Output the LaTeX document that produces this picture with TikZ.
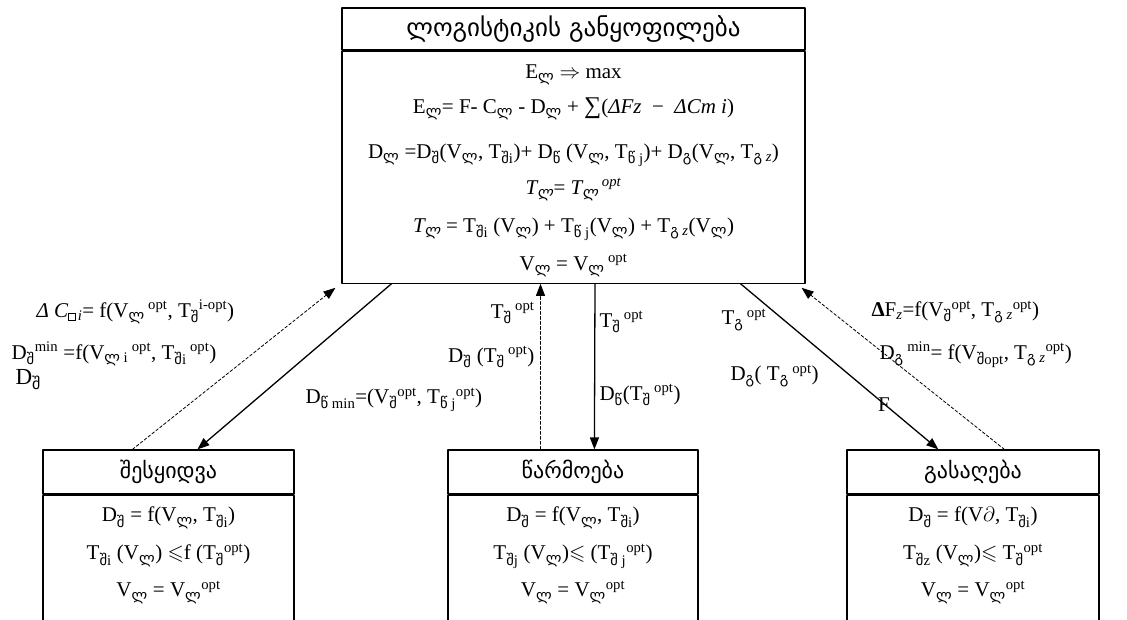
\documentclass[tikz,border=0pt]{standalone}
\usepackage{fontspec}
\usepackage{amssymb}
\setmainfont{Liberation Serif}
\newfontfamily\geo{DejaVu Sans}
\usetikzlibrary{arrows.meta,calc,positioning}
\newcommand\gsb[2][]{\textsubscript{{\geo #2}#1}}
\newcommand\gsp[1]{\textsuperscript{#1}}
\newcommand\nobox{\textsubscript{\fboxsep0pt\fboxrule0.5pt\fbox{\rule{0pt}{7pt}\hspace{6pt}}\,\textit{i}}}

\begin{document}
\begin{tikzpicture}[x=1pt,y=-1pt,line cap=round,line join=round,
    every node/.style={font=\fontsize{21}{25}\selectfont},
    headbox/.style={draw,line width=1.2pt,inner sep=0pt,font=\fontsize{22}{25}\geo},
    bodybox/.style={draw,line width=1.2pt,align=center,inner sep=0pt},
    flow/.style={line width=1.3pt,-{Triangle[length=12pt,width=9pt]}},
    back/.style={line width=0.8pt,dash pattern=on 3pt off 2pt,-{Triangle[length=12pt,width=9pt]}}]
  \clip (0,0) rectangle (1127,619);
  % logistics department
  \node[headbox,minimum width=463,minimum height=42,font=\fontsize{25}{28}\geo] (logh) at (573.5,29) {ლოგისტიკის განყოფილება};
  \node[bodybox,minimum width=463,minimum height=232,below=0pt of logh] (logb) {%
    \rule{0pt}{21pt}E\gsb{ლ} $\Rightarrow$ max\\[10pt]
    E\gsb{ლ}= F- C\gsb{ლ} - D\gsb{ლ} + {\fontsize{24}{25}\selectfont ∑}(\textit{ΔFz}\enspace−\enspace\textit{ΔCm i})\\[20pt]
    D\gsb{ლ} =D\gsb{შ}(V\gsb{ლ}, T\gsb[i]{შ})+ D\gsb{წ} (V\gsb{ლ}, T\gsb[ j]{წ})+ D\gsb{გ}(V\gsb{ლ}, T\gsb[ \textit{z}]{გ})\\[11pt]
    \textit{T\gsb{ლ}}= \textit{T\gsb{ლ}\,\gsp{opt}}\\[13pt]
    \textit{T\gsb{ლ}} = T\gsb[i]{შ} (V\gsb{ლ}) + T\gsb[ j]{წ}(V\gsb{ლ}) + T\gsb[ \textit{z}]{გ}(V\gsb{ლ})\\[13pt]
    V\gsb{ლ} = V\gsb{ლ}\,\gsp{opt}};
  % purchase, production, sales
  \node[headbox,minimum width=251,minimum height=44] (buyh) at (168.5,472) {შესყიდვა};
  \node[bodybox,minimum width=251,inner ysep=12pt,below=0pt of buyh] (buyb) {%
    D\gsb{შ} = f(V\gsb{ლ}, T\gsb[i]{შ})\\[13pt]
    T\gsb[i]{შ} (V\gsb{ლ}) $\leqslant$f (T\gsb{შ}\gsp{opt})\\[12pt]
    V\gsb{ლ} = V\gsb{ლ}\gsp{opt}\rule[-43pt]{0pt}{1pt}};
  \node[headbox,minimum width=250,minimum height=44] (makeh) at (573,472) {წარმოება};
  \node[bodybox,minimum width=250,inner ysep=12pt,below=0pt of makeh] (makeb) {%
    D\gsb{შ} = f(V\gsb{ლ}, T\gsb[i]{შ})\\[13pt]
    T\gsb[j]{შ} (V\gsb{ლ})$\leqslant$ (T\gsb[ j]{შ}\gsp{opt})\\[12pt]
    V\gsb{ლ} = V\gsb{ლ}\gsp{opt}\rule[-43pt]{0pt}{1pt}};
  \node[headbox,minimum width=252,minimum height=44] (sellh) at (973,472) {გასაღება};
  \node[bodybox,minimum width=252,inner ysep=12pt,below=0pt of sellh] (sellb) {%
    D\gsb{შ} = f(V$\partial$, T\gsb[i]{შ})\\[13pt]
    T\gsb[z]{შ} (V\gsb{ლ})$\leqslant$ T\gsb{შ}\gsp{opt}\\[12pt]
    V\gsb{ლ} = V\gsb{ლ}\gsp{opt}\rule[-43pt]{0pt}{1pt}};
  % connectors
  \draw[back] ($(buyh.north west)+(90,0)$) -- ($(logb.south west)+(-6,4)$);
  \draw[flow] ($(logb.south west)+(50,0)$) -- ($(buyh.north west)+(155,0)$);
  \draw[back] ($(makeh.north west)+(93,0)$) -- ($(logb.south)+(-33,0)$);
  \draw[flow] ($(logb.south)+(21.5,0)$) -- ($(makeh.north west)+(147,0)$);
  \draw[flow] ($(logb.south east)+(-65,0)$) -- ($(sellh.north west)+(92,0)$);
  \draw[back] ($(sellh.north west)+(158,0)$) -- ($(logb.south east)+(-4,4)$);
  % labels
  \node[anchor=west] (dcbuy) at (33,312) {\textit{Δ C}\nobox= f(V\gsb{ლ}\,\gsp{opt}, T\gsb{შ}\gsp{i-opt})};
  \node[anchor=west] (dminbuy) at (8,354) {D\gsb{შ}\gsp{min} =f(V\gsb[ i]{ლ}\,\gsp{opt}, T\gsb[i]{შ}\,\gsp{opt})};
  \node[anchor=west] (dbuy) at (12,380) {\fontsize{23}{26}\selectfont D\gsb{შ}};
  \node[anchor=west] (dminmake) at (302,400) {D\gsb[ min]{წ}=(V\gsb{შ}\gsp{opt}, T\gsb[ j]{წ}\gsp{opt})};
  \node[anchor=east] (toptup) at (538,313) {T\gsb{შ}\,\gsp{opt}};
  \node[anchor=east] (dtoptup) at (538,357) {D\gsb{შ} (T\gsb{შ}\,\gsp{opt})};
  \node[anchor=west] (toptdown) at (596,322) {T\gsb{შ}\,\gsp{opt}};
  \node[anchor=west] (dtoptdown) at (596,395) {D\gsb{წ}(T\gsb{შ}\,\gsp{opt})};
  \node[anchor=west] (toptsell) at (718,320) {T\gsb{გ}\,\gsp{opt}};
  \node[anchor=west] (dtoptsell) at (727,376) {D\gsb{გ}( T\gsb{გ}\,\gsp{opt})};
  \node (fsell) at (884,405) {F};
  \node[anchor=west] (dfsell) at (868,312) {\textbf{Δ}F\textsubscript{\textit{z}}=f(V\gsb{შ}\gsp{opt}, T\gsb[ \textit{z}]{გ}\gsp{opt})};
  \node[anchor=west] (dminsell) at (876,355) {D\gsb{გ}\,\gsp{min}= f(V\gsb[opt]{შ}, T\gsb[ \textit{z}]{გ}\gsp{opt})};
\end{tikzpicture}
\end{document}
